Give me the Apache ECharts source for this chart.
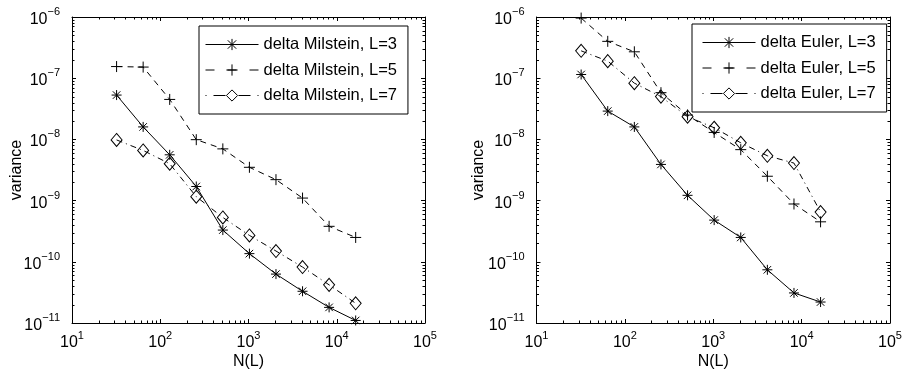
<!DOCTYPE html>
<html>
<head>
<meta charset="utf-8">
<title>Variance vs N(L)</title>
<script src="https://cdn.jsdelivr.net/npm/echarts@6/dist/echarts.min.js"></script>
<style>
  html, body { margin: 0; padding: 0; background: #fff; }
  #chart { width: 906px; height: 375px; }
</style>
</head>
<body>
<div id="chart"></div>
<script>
// Sample sizes N(L) on the x axis
const nValues = [32, 64, 128, 256, 512, 1024, 2048, 4096, 8192, 16384];

// Variance of the Milstein differences
const milsteinL3 = [5.3e-8, 1.6e-8, 5.6e-9, 1.7e-9, 3.3e-10, 1.36e-10, 6.3e-11, 3.3e-11, 1.8e-11, 1.1e-11];
const milsteinL5 = [1.55e-7, 1.52e-7, 4.5e-8, 9.9e-9, 7.0e-9, 3.5e-9, 2.2e-9, 1.1e-9, 3.8e-10, 2.5e-10];
const milsteinL7 = [9.8e-9, 6.6e-9, 4.0e-9, 1.16e-9, 5.3e-10, 2.7e-10, 1.5e-10, 8.2e-11, 4.2e-11, 2.1e-11];

// Variance of the Euler differences
const eulerL3 = [1.15e-7, 2.9e-8, 1.6e-8, 3.9e-9, 1.22e-9, 4.8e-10, 2.5e-10, 7.4e-11, 3.1e-11, 2.2e-11];
const eulerL5 = [9.6e-7, 4.0e-7, 2.7e-7, 5.8e-8, 2.5e-8, 1.3e-8, 6.8e-9, 2.5e-9, 8.8e-10, 4.5e-10];
const eulerL7 = [2.8e-7, 1.9e-7, 8.3e-8, 5.0e-8, 2.35e-8, 1.55e-8, 8.8e-9, 5.4e-9, 4.1e-9, 6.5e-10];

// Axis decades (exponents of 10)
const xDecades = [1, 2, 3, 4, 5];
const yDecades = [-11, -10, -9, -8, -7, -6];

const FONT = 'Liberation Sans, Arial, Helvetica, sans-serif';
const xMin = Math.pow(10, xDecades[0]), xMax = Math.pow(10, xDecades[xDecades.length - 1]);
const yMin = Math.pow(10, yDecades[0]), yMax = Math.pow(10, yDecades[yDecades.length - 1]);

// Marker shapes
const STAR = 'path://M0,-10L0,10M-10,0L10,0M-7.5,-7.5L7.5,7.5M-7.5,7.5L7.5,-7.5';
const PLUS = 'path://M0,-10L0,10M-10,0L10,0';

// Line styles per level: plot dash pattern and legend sample pattern
const LEVEL_STYLE = {
  L3: { symbol: STAR, size: 10, dash: 'solid', legendDash: 'solid' },
  L5: { symbol: PLUS, size: 11, dash: [6, 5], legendDash: [9, 13, 9, 13, 9, 100] },
  L7: { symbol: 'diamond', size: [11, 13], dash: [6, 4, 1, 4], legendDash: [1, 7, 12, 13, 12, 7, 1, 100] }
};

const powerLabel = v => '{b|10}{s|' + String(Math.round(Math.log10(v))).replace('-', '\u2212') + '}';
const labelRich = {
  b: { fontSize: 16, fontFamily: FONT, color: '#000', padding: [5, 0, 0, 0] },
  s: { fontSize: 11, fontFamily: FONT, color: '#000', lineHeight: 11, verticalAlign: 'top' }
};

// Minor tick values 2..9 x 10^k between the decades
function minorValues(decs) {
  const out = [];
  for (let i = 0; i < decs.length - 1; i++) {
    for (let m = 2; m <= 9; m++) out.push(m * Math.pow(10, decs[i]));
  }
  return out;
}
const xMinor = minorValues(xDecades);
const yMinor = minorValues(yDecades);

const grids = [
  { left: 72, top: 17, width: 353, height: 306 },
  { left: 536.5, top: 17, width: 353.5, height: 306 }
];

function mainXAxis(gi) {
  return {
    type: 'log', logBase: 10, gridIndex: gi, min: xMin, max: xMax, position: 'bottom',
    name: 'N(L)', nameLocation: 'middle', nameGap: 31, nameMoveOverlap: false,
    nameTextStyle: { fontSize: 16, fontFamily: FONT, color: '#000' },
    axisLine: { show: true, lineStyle: { color: '#000', width: 1 } },
    axisTick: { show: true, inside: true, length: 4, lineStyle: { color: '#000' } },
    axisLabel: { show: true, margin: 7, formatter: powerLabel, rich: labelRich, showMinLabel: true, showMaxLabel: true },
    splitLine: { show: false }, minorTick: { show: false }
  };
}
function mirrorXAxis(gi) {
  return {
    type: 'log', logBase: 10, gridIndex: gi, min: xMin, max: xMax, position: 'top',
    axisLine: { show: true, lineStyle: { color: '#000', width: 1 } },
    axisTick: { show: true, inside: true, length: 4, lineStyle: { color: '#000' } },
    axisLabel: { show: false }, splitLine: { show: false }
  };
}
function mainYAxis(gi, gap) {
  return {
    type: 'log', logBase: 10, gridIndex: gi, min: yMin, max: yMax, position: 'left',
    name: 'variance', nameLocation: 'middle', nameGap: gap, nameMoveOverlap: false,
    nameTextStyle: { fontSize: 16, fontFamily: FONT, color: '#000' },
    axisLine: { show: true, lineStyle: { color: '#000', width: 1 } },
    axisTick: { show: true, inside: true, length: 4, lineStyle: { color: '#000' } },
    axisLabel: { show: true, margin: 12, formatter: powerLabel, rich: labelRich, showMinLabel: true, showMaxLabel: true },
    splitLine: { show: false }
  };
}
function mirrorYAxis(gi) {
  return {
    type: 'log', logBase: 10, gridIndex: gi, min: yMin, max: yMax, position: 'right',
    axisLine: { show: true, lineStyle: { color: '#000', width: 1 } },
    axisTick: { show: true, inside: true, length: 4, lineStyle: { color: '#000' } },
    axisLabel: { show: false }, splitLine: { show: false }
  };
}

const pairs = vals => nValues.map((n, i) => [n, vals[i]]);

function lineSeries(name, vals, axisIdx, kind) {
  const s = LEVEL_STYLE[kind];
  return {
    type: 'line', name, data: pairs(vals),
    xAxisIndex: axisIdx, yAxisIndex: axisIdx,
    symbol: s.symbol, symbolSize: s.size, showSymbol: true, showAllSymbol: true,
    lineStyle: { color: '#000', width: 1, type: s.dash },
    itemStyle: { color: 'rgba(0,0,0,0)', borderColor: '#000', borderWidth: 1 },
    emphasis: { disabled: true }, silent: true, z: 3
  };
}

// Minor ticks on all four sides of a frame, drawn through the axes' own log scale
function minorTickSeries(axisIdx) {
  const data = xMinor.map(v => [v, yMin, 0]).concat(yMinor.map(v => [xMin, v, 1]));
  return {
    type: 'custom', xAxisIndex: axisIdx, yAxisIndex: axisIdx, silent: true, clip: false, z: 4,
    encode: { x: 0, y: 1 },
    data,
    renderItem(params, api) {
      const cs = params.coordSys;
      const p = api.coord([api.value(0), api.value(1)]);
      const len = 2.5;
      const st = { stroke: '#000', lineWidth: 1 };
      if (api.value(2) === 0) {
        const x = Math.round(p[0]) + 0.5;
        return { type: 'group', children: [
          { type: 'line', shape: { x1: x, y1: cs.y + cs.height, x2: x, y2: cs.y + cs.height - len }, style: st },
          { type: 'line', shape: { x1: x, y1: cs.y, x2: x, y2: cs.y + len }, style: st }
        ] };
      }
      const y = Math.round(p[1]) + 0.5;
      return { type: 'group', children: [
        { type: 'line', shape: { x1: cs.x, y1: y, x2: cs.x + len, y2: y }, style: st },
        { type: 'line', shape: { x1: cs.x + cs.width, y1: y, x2: cs.x + cs.width - len, y2: y }, style: st }
      ] };
    }
  };
}

function legendFor(prefix, left, top, padL, padR) {
  return {
    data: ['L3', 'L5', 'L7'].map(k => ({
      name: prefix + ', L=' + k.slice(1),
      lineStyle: { color: '#000', width: 1, type: LEVEL_STYLE[k].legendDash },
      itemStyle: { color: 'rgba(0,0,0,0)', borderColor: '#000', borderWidth: 1 }
    })),
    left, top, orient: 'vertical',
    itemWidth: 53, itemHeight: 14, itemGap: 8.5,
    padding: [10, padR, 10, padL],
    borderColor: '#000', borderWidth: 1, backgroundColor: '#fff',
    selectedMode: false,
    lineStyle: { width: 1 },
    itemStyle: { borderWidth: 1 },
    textStyle: { fontSize: 16.5, fontFamily: FONT, color: '#000' }
  };
}

const chart = echarts.init(document.getElementById('chart'), null, { renderer: 'canvas' });
chart.setOption({
  animation: false,
  backgroundColor: '#fff',
  grid: grids,
  xAxis: [mainXAxis(0), mirrorXAxis(0), mainXAxis(1), mirrorXAxis(1)],
  yAxis: [mainYAxis(0, 47), mirrorYAxis(0), mainYAxis(1, 50), mirrorYAxis(1)],
  legend: [
    legendFor('delta Milstein', 199, 26, 6, 11),
    legendFor('delta Euler', 692, 24, 10, 11)
  ],
  series: [
    lineSeries('delta Milstein, L=3', milsteinL3, 0, 'L3'),
    lineSeries('delta Milstein, L=5', milsteinL5, 0, 'L5'),
    lineSeries('delta Milstein, L=7', milsteinL7, 0, 'L7'),
    lineSeries('delta Euler, L=3', eulerL3, 2, 'L3'),
    lineSeries('delta Euler, L=5', eulerL5, 2, 'L5'),
    lineSeries('delta Euler, L=7', eulerL7, 2, 'L7'),
    minorTickSeries(0),
    minorTickSeries(2)
  ]
});
</script>
</body>
</html>
